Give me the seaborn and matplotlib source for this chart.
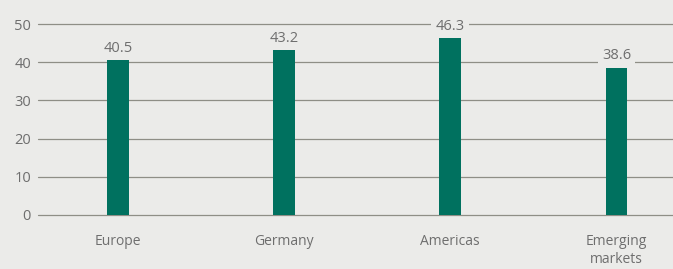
import matplotlib
matplotlib.use("Agg")
import matplotlib.pyplot as plt
import seaborn as sns
import pandas as pd

# ====================== DATA ======================

regions = ["Europe", "Germany", "Americas", "Emerging\nmarkets"]
values  = [40.5, 43.2, 46.3, 38.6]
y_ticks = [0, 10, 20, 30, 40, 50]

BG    = "#ebebe9"
BAR   = "#00715f"
GRID  = "#8e8e86"
TEXT  = "#6e6e6e"

# ====================== PLOT ======================

sns.set_theme(style="white")
plt.rcParams["font.family"] = ["Open Sans", "DejaVu Sans"]

df = pd.DataFrame({"region": regions, "value": values})

fig = plt.figure(figsize=(6.73, 2.69), dpi=100, facecolor=BG)
ax = fig.add_axes([38 / 673, 54 / 269, 1 - 38 / 673, 191 / 269])
ax.set_facecolor(BG)

sns.barplot(data=df, x="region", y="value", color=BAR, width=0.132,
            saturation=1, linewidth=0, ax=ax, zorder=3)

# horizontal rules, the zero line included (not clipped at the axes edge)
for y in y_ticks:
    ax.axhline(y, color=GRID, linewidth=0.9, zorder=1, clip_on=False)

for i, v in enumerate(values):
    ax.annotate(f"{v:.1f}", (i, v), xytext=(0, 3), textcoords="offset points",
                ha="center", va="bottom", fontsize=10.5, color=TEXT, zorder=4,
                bbox=dict(boxstyle="square,pad=0.3", facecolor=BG, edgecolor="none"))

ax.set_xlim(-0.48, 3.34)
ax.set_ylim(0, 50)
ax.set_yticks(y_ticks)
ax.set_xlabel("")
ax.set_ylabel("")
for s in ax.spines.values():
    s.set_visible(False)
ax.tick_params(axis="y", length=0, pad=5, labelsize=10.5, labelcolor=TEXT)
ax.tick_params(axis="x", length=0, pad=14, labelsize=10, labelcolor=TEXT)
for lbl in ax.get_xticklabels():
    lbl.set_linespacing(1.25)

fig.savefig("out.png", dpi=100, facecolor=BG)
